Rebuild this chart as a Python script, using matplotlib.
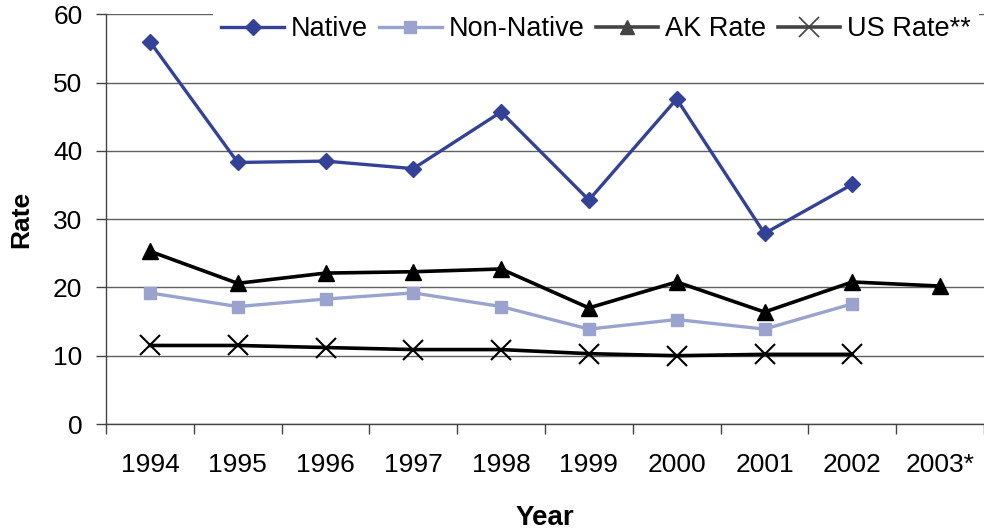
import matplotlib
matplotlib.use("Agg")
import matplotlib.pyplot as plt
from matplotlib.lines import Line2D
import numpy as np

years = ["1994", "1995", "1996", "1997", "1998", "1999", "2000", "2001", "2002", "2003*"]
native = [56.0, 38.3, 38.5, 37.4, 45.7, 32.8, 47.6, 27.9, 35.1]
non_native = [19.2, 17.2, 18.3, 19.2, 17.2, 13.9, 15.3, 13.9, 17.6]
ak_rate = [25.3, 20.6, 22.1, 22.3, 22.7, 17.0, 20.8, 16.4, 20.8, 20.2]
us_rate = [11.5, 11.5, 11.2, 10.9, 10.9, 10.3, 10.0, 10.2, 10.2]

plt.rcParams['font.family'] = ['Liberation Sans', 'DejaVu Sans']

fig = plt.figure(figsize=(9.84, 5.31), dpi=100)
ax = fig.add_axes([106/984, 1 - 424/531, 1 - 106/984, (424 - 14.3)/531])

x = np.arange(len(years))
ax.plot(x[:len(native)], native, color='#334296', lw=2.4, marker='D', ms=8.5, zorder=5)
ax.plot(x[:len(non_native)], non_native, color='#9AA3CD', lw=2.4, marker='s', ms=8.5, zorder=4)
ax.plot(x[:len(ak_rate)], ak_rate, color='#000000', lw=2.6, marker='^', ms=11, zorder=4)
ax.plot(x[:len(us_rate)], us_rate, color='#000000', lw=2.6, marker='x', ms=15, mew=1.5, zorder=3)

ax.set_ylim(0, 60)
ax.set_yticks(np.arange(0, 61, 10))
ax.set_xlim(-0.5, 9.44)
ax.set_xticks(x)
ax.set_xticklabels(years)
ax.set_xticks(np.arange(-0.5, 9.6, 1), minor=True)
ax.tick_params(axis='x', which='major', length=0, pad=21, labelsize=19)
ax.tick_params(axis='x', which='minor', length=7, width=1, color='#444444', direction='out')
ax.tick_params(axis='y', length=7, width=1, color='#444444', pad=10, labelsize=19)

ax.yaxis.grid(True, color='#606060', lw=1)
ax.set_axisbelow(True)
for s in ['top', 'right']:
    ax.spines[s].set_visible(False)
for s in ['left', 'bottom']:
    ax.spines[s].set_color('#444444')
    ax.spines[s].set_linewidth(1)

ax.set_ylabel('Rate', fontsize=19, fontweight='bold', labelpad=14)
ax.set_xlabel('Year', fontsize=20, fontweight='bold', labelpad=20)

handles = [
    Line2D([], [], color='#334296', lw=2.4, marker='D', ms=8.5),
    Line2D([], [], color='#9AA3CD', lw=2.4, marker='s', ms=8.5),
    Line2D([], [], color='#444444', lw=2.6, marker='^', ms=10),
    Line2D([], [], color='#444444', lw=2.6, marker='x', ms=15, mew=1.2),
]
labels = ['Native', 'Non-Native', 'AK Rate', 'US Rate**']
leg = fig.legend(handles, labels, loc='upper right', bbox_to_anchor=(0.995, 1 - 8/531), ncol=4,
                 fontsize=19.5, frameon=True, handlelength=2.3, handletextpad=0.26,
                 columnspacing=0.42, borderpad=0.3, borderaxespad=0.0, fancybox=False)
leg.get_frame().set_facecolor('white')
leg.get_frame().set_edgecolor('none')
leg.get_frame().set_alpha(1)

fig.savefig('out.png', dpi=100)
